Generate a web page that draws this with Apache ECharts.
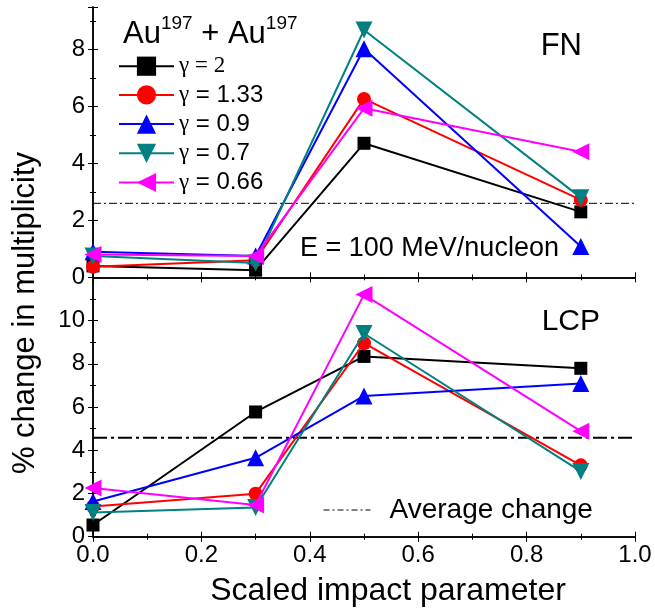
<!DOCTYPE html>
<html>
<head>
<meta charset="utf-8">
<script src="https://cdn.jsdelivr.net/npm/echarts@6/dist/echarts.min.js"></script>
<style>html,body{margin:0;padding:0;background:#fff}#c{width:655px;height:612px}</style>
</head>
<body>
<div id="c"></div>
<script>
// ---- data ----
const xVals = [0, 0.3, 0.5, 0.9];
const seriesNames = ['γ = 2', 'γ = 1.33', 'γ = 0.9', 'γ = 0.7', 'γ = 0.66'];
const fnG2   = [0.40, 0.25, 4.71, 2.30];
const fnG133 = [0.37, 0.60, 6.27, 2.72];
const fnG09  = [0.90, 0.75, 8.03, 1.08];
const fnG07  = [0.75, 0.50, 8.69, 2.80];
const fnG066 = [0.80, 0.75, 5.94, 4.41];
const lcpG2   = [0.54, 5.77, 8.34, 7.79];
const lcpG133 = [1.40, 1.99, 8.95, 3.30];
const lcpG09  = [1.63, 3.65, 6.51, 7.09];
const lcpG07  = [1.12, 1.35, 9.40, 3.02];
const lcpG066 = [2.25, 1.47, 11.20, 4.88];
const avgFN = 2.6;
const avgLCP = 4.58;
const avgX = [0, 1];
const xTicks = [0, 0.2, 0.4, 0.6, 0.8, 1.0];
const fnYTicks = [0, 2, 4, 6, 8];
const lcpYTicks = [0, 2, 4, 6, 8, 10];

// ---- styles ----
const colors = ['#000000', '#ff0000', '#0000ff', '#008080', '#ff00ff'];
const symbols = ['rect', 'circle', 'triangle', 'triangle', 'triangle'];
const rotates = [0, 0, 0, 180, 90];
const sizes = [13, 14, 17, 17, 17];
const FONT = 'Liberation Sans, Arial, sans-serif';

const chart = echarts.init(document.getElementById('c'), null, {renderer: 'canvas'});

function pairs(ys) { return xVals.map((x, i) => [x, ys[i]]); }

const fnData = [fnG2, fnG133, fnG09, fnG07, fnG066];
const lcpData = [lcpG2, lcpG133, lcpG09, lcpG07, lcpG066];

const series = [];
function addSeries(dataArr, xi, yi) {
  dataArr.forEach((d, i) => {
    series.push({
      name: seriesNames[i], type: 'line', xAxisIndex: xi, yAxisIndex: yi,
      data: pairs(d), symbol: symbols[i], symbolRotate: rotates[i], symbolSize: sizes[i],
      itemStyle: {color: colors[i]}, lineStyle: {color: colors[i], width: 2},
      z: 3 + i, animation: false
    });
  });
}
addSeries(fnData, 0, 0);
addSeries(lcpData, 2, 2);
series.push({
  name: 'avgFN', type: 'line', xAxisIndex: 0, yAxisIndex: 0, symbol: 'none',
  data: avgX.map(x => [x, avgFN]),
  lineStyle: {color: '#000', width: 1, type: [8, 3, 2, 3]}, z: 2, animation: false
});
series.push({
  name: 'Average change', type: 'line', xAxisIndex: 2, yAxisIndex: 2, symbol: 'none',
  data: avgX.map(x => [x, avgLCP]),
  lineStyle: {color: '#000', width: 2, type: [14, 4, 3, 4]}, z: 2, animation: false
});

function xAxis(grid, pos, labels) {
  return {
    type: 'value', gridIndex: grid, position: pos, min: 0, max: 1, interval: 0.2,
    axisLine: {show: true, lineStyle: {color: '#000', width: 1.5}},
    axisTick: {show: true, inside: true, length: 5, lineStyle: {color: '#000', width: 1}},
    minorTick: {show: true, splitNumber: 2, length: 3, lineStyle: {color: '#000', width: 1}},
    splitLine: {show: false},
    axisLabel: {show: labels, color: '#000', fontSize: 24, fontFamily: FONT, margin: 7,
      formatter: v => xTicks.includes(Math.round(v * 10) / 10) ? v.toFixed(1) : ''}
  };
}
function yAxis(grid, pos, max, labels, ticks) {
  return {
    type: 'value', gridIndex: grid, position: pos, min: 0, max: max, interval: 2,
    axisLine: {show: true, lineStyle: {color: '#000', width: 1.5}},
    axisTick: {show: true, inside: true, length: 5, lineStyle: {color: '#000', width: 1}},
    minorTick: {show: true, splitNumber: 2, length: 3, lineStyle: {color: '#000', width: 1}},
    splitLine: {show: false},
    axisLabel: {show: labels, color: '#000', fontSize: 24, fontFamily: FONT, margin: 8,
      formatter: v => ticks.includes(v) ? String(v) : ''}
  };
}

const option = {
  backgroundColor: '#fff',
  animation: false,
  grid: [
    {left: 93, right: 20, top: 7, height: 270.3, containLabel: false},
    {left: 93, right: 20, top: 277.3, height: 259.4, containLabel: false}
  ],
  xAxis: [xAxis(0, 'bottom', false), xAxis(0, 'top', false), xAxis(1, 'bottom', true), xAxis(1, 'top', false)],
  yAxis: [yAxis(0, 'left', 9.5, true, fnYTicks), yAxis(0, 'right', 9.5, false, fnYTicks),
          yAxis(1, 'left', 12, true, lcpYTicks), yAxis(1, 'right', 12, false, lcpYTicks)],
  legend: [
    {
      data: seriesNames, orient: 'vertical', left: 118, top: 54.7, padding: 0,
      itemWidth: 55, itemHeight: 24, itemGap: 5.2,
      textStyle: {color: '#000', fontSize: 24, fontFamily: FONT,
        rich: {g: {fontSize: 23, fontFamily: 'Liberation Serif, serif', color: '#000'},
               n: {fontSize: 24, fontFamily: FONT, color: '#000'},
               t: {fontSize: 23, fontFamily: 'Liberation Serif, serif', color: '#000'}}},
      formatter: name => name === seriesNames[0] ? '{t|γ = 2}' : '{g|γ}{n|' + name.slice(1) + '}',
      selectedMode: false
    },
    {
      data: ['Average change'], orient: 'vertical', left: 323, top: 496, padding: 0,
      itemWidth: 47, itemHeight: 22,
      lineStyle: {width: 1, type: [6, 3, 2, 3]},
      itemStyle: {color: 'rgba(0,0,0,0)', borderWidth: 0},
      textStyle: {color: '#000', fontSize: 28, fontFamily: FONT, padding: [0, 0, 0, 14]},
      selectedMode: false
    }
  ],
  graphic: [
    {type: 'text', left: 123, top: 14, style: {
      text: '{a|Au}{s|197}{a| + Au}{s|197}', fill: '#000',
      rich: {a: {fontSize: 31, fontFamily: FONT, lineHeight: 36, verticalAlign: 'bottom'},
             s: {fontSize: 19, fontFamily: FONT, lineHeight: 36, verticalAlign: 'top'}}}},
    {type: 'text', x: 582, y: 46, style: {text: 'FN', fontSize: 31, fontFamily: FONT, fill: '#000', align: 'right', verticalAlign: 'middle'}},
    {type: 'text', x: 600, y: 322, style: {text: 'LCP', fontSize: 30, fontFamily: FONT, fill: '#000', align: 'right', verticalAlign: 'middle'}},
    {type: 'text', x: 300, y: 249, style: {text: 'E = 100 MeV/nucleon', fontSize: 27, fontFamily: FONT, fill: '#000', align: 'left', verticalAlign: 'middle'}},
    {type: 'text', x: 388, y: 591, style: {text: 'Scaled impact parameter', fontSize: 32, fontFamily: FONT, fill: '#000', align: 'center', verticalAlign: 'middle'}},
    {type: 'text', x: 25, y: 313, rotation: Math.PI / 2, style: {text: '% change in multiplicity', fontSize: 31, fontFamily: FONT, fill: '#000', align: 'center', verticalAlign: 'middle'}}
  ],
  series: series
};
chart.setOption(option);
</script>
</body>
</html>
